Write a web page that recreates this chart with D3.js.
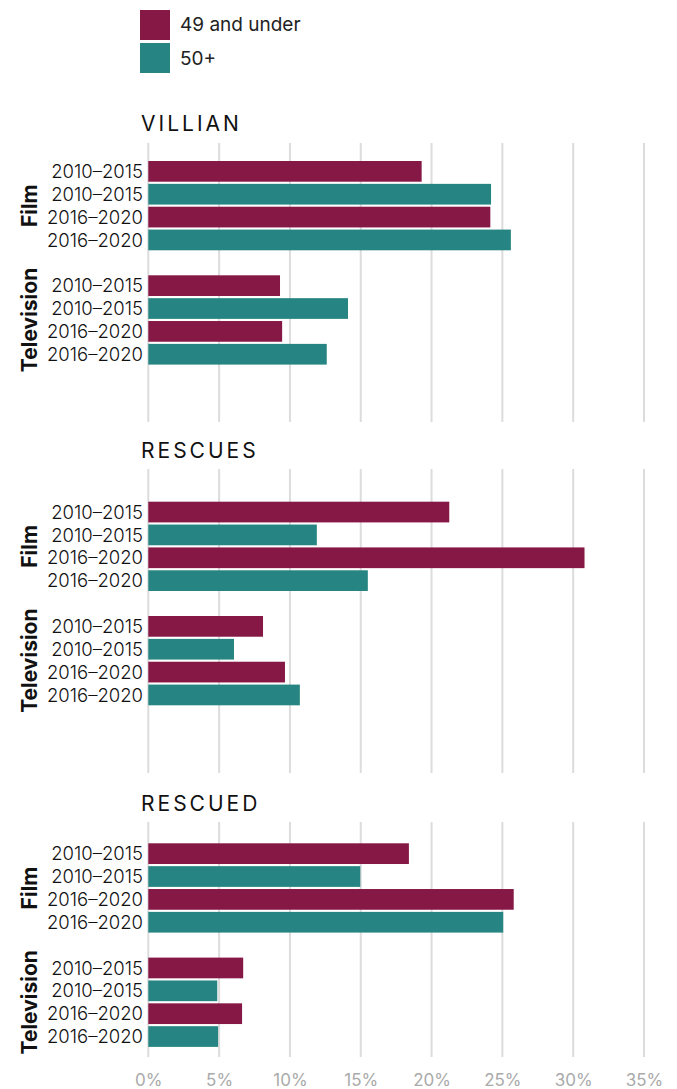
<!DOCTYPE html>
<html>
<head>
<meta charset="utf-8">
<script src="https://cdn.jsdelivr.net/npm/d3@7"></script>
<style>
  body { margin: 0; background: #fff; }
  svg { display: block; font-family: Inter, "Noto Sans", sans-serif; }
</style>
</head>
<body>
<svg width="677" height="1089"></svg>
<script>
// data
const series = ["49 and under", "50+"];
const groups = ["Film", "Television"];
const periods = ["2010–2015", "2010–2015", "2016–2020", "2016–2020"];
const rowSeries = [0, 1, 0, 1];
const panels = ["VILLIAN", "RESCUES", "RESCUED"];

const villianFilm = [19.3, 24.2, 24.15, 25.6];
const villianTv = [9.3, 14.1, 9.45, 12.6];
const rescuesFilm = [21.25, 11.9, 30.8, 15.5];
const rescuesTv = [8.1, 6.05, 9.65, 10.7];
const rescuedFilm = [18.4, 14.97, 25.8, 25.06];
const rescuedTv = [6.7, 4.87, 6.62, 4.93];

const xTicks = [0, 5, 10, 15, 20, 25, 30, 35];

const panelValues = [
    [villianFilm, villianTv],
    [rescuesFilm, rescuesTv],
    [rescuedFilm, rescuedTv]
];

const colors = ["#861846", "#268582"];

// layout of each panel (title baseline, grid top/bottom, top of first bar)
const layout = [
    { title: 131, gridTop: 143, gridBottom: 422, barTop: 161 },
    { title: 458, gridTop: 469, gridBottom: 773, barTop: 501.7 },
    { title: 811, gridTop: 822, gridBottom: 1057, barTop: 843.3 }
];

const svg = d3.select("svg");

const x = d3.scaleLinear().domain([0, 35]).range([148.3, 644]);

// legend
const legend = svg.append("g");
series.forEach((s, i) => {
    legend.append("rect")
        .attr("x", 140)
        .attr("y", 10 + i * 33)
        .attr("width", 30)
        .attr("height", 30)
        .attr("fill", colors[i]);
    legend.append("text")
        .attr("x", 180)
        .attr("y", 31 + i * 34)
        .attr("fill", "#222")
        .style("font-size", "19px")
        .text(s);
});

panels.forEach((name, p) => {
    const L = layout[p];
    const g = svg.append("g");

    // rows: 4 film, one blank slot, 4 television
    const rows = [];
    groups.forEach((grp, gi) => {
        periods.forEach((per, k) => {
            rows.push({
                key: grp + k,
                group: grp,
                period: per,
                s: rowSeries[k],
                value: panelValues[p][gi][k]
            });
        });
    });
    const domain = rows.slice(0, 4).map(d => d.key)
        .concat(["gap"], rows.slice(4).map(d => d.key));

    const y = d3.scaleBand()
        .domain(domain)
        .range([L.barTop, L.barTop + 203.6])
        .paddingInner(0.094)
        .paddingOuter(0);

    g.append("text")
        .attr("x", 141)
        .attr("y", L.title)
        .attr("fill", "#111")
        .style("font-size", "21px")
        .style("letter-spacing", "3px")
        .text(name);

    // grid
    g.selectAll(".grid")
        .data(xTicks)
        .enter()
        .append("line")
        .attr("x1", d => x(d))
        .attr("x2", d => x(d))
        .attr("y1", L.gridTop)
        .attr("y2", L.gridBottom)
        .attr("stroke", "#dcdcdc")
        .attr("stroke-width", 2);

    // bars
    g.selectAll(".bar")
        .data(rows)
        .enter()
        .append("rect")
        .attr("x", x(0))
        .attr("y", d => y(d.key))
        .attr("width", d => x(d.value) - x(0))
        .attr("height", y.bandwidth())
        .attr("fill", d => colors[d.s]);

    // period labels
    g.selectAll(".lab")
        .data(rows)
        .enter()
        .append("text")
        .attr("x", 143)
        .attr("y", d => y(d.key) + y.bandwidth() / 2)
        .attr("dy", "0.36em")
        .attr("text-anchor", "end")
        .attr("fill", "#111")
        .style("font-size", "18.5px")
        .style("font-weight", 300)
        .text(d => d.period);

    // group labels
    groups.forEach(grp => {
        const keys = rows.filter(d => d.group === grp).map(d => d.key);
        const cy = (y(keys[0]) + y(keys[3]) + y.bandwidth()) / 2;
        g.append("text")
            .attr("transform", `translate(37, ${cy}) rotate(-90)`)
            .attr("text-anchor", "middle")
            .attr("fill", "#111")
            .style("font-size", "21px")
            .style("font-weight", "bold")
            .text(grp);
    });
});

// bottom axis
const axis = svg.append("g")
    .attr("transform", "translate(0, 1060)")
    .call(d3.axisBottom(x).tickValues(xTicks).tickFormat(d => d + "%").tickSize(0));
axis.select(".domain").remove();
axis.selectAll("text")
    .attr("dy", 0)
    .attr("y", 26)
    .attr("fill", "#aaa")
    .style("font-size", "17px")
    .style("font-family", "Inter, sans-serif");
</script>
</body>
</html>
